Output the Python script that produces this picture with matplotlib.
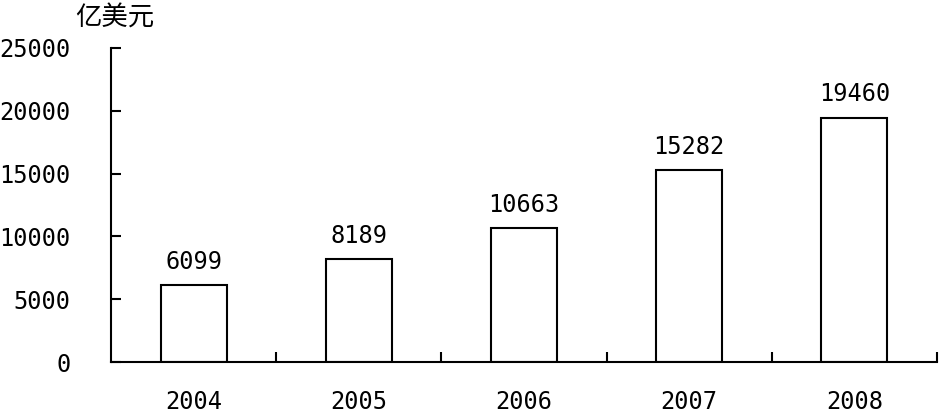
import matplotlib.pyplot as plt
import matplotlib.ticker as mtick

# Data
years = ["2004", "2005", "2006", "2007", "2008"]
values = [6099, 8189, 10663, 15282, 19460]
y_ticks = [0, 5000, 10000, 15000, 20000, 25000]

num_font = ["DejaVu Sans Mono"]
plt.rcParams["font.family"] = ["Noto Sans CJK SC", "DejaVu Sans"]

fig = plt.figure(figsize=(9.4, 4.12), dpi=100)
ax = fig.add_axes([111 / 940, 50 / 412, 826 / 940, 314 / 412])

x = list(range(len(years)))
bars = ax.bar(
    x,
    values,
    width=0.4,
    color="white",
    edgecolor="black",
    linewidth=1.5,
)

for bar in bars:
    h = bar.get_height()
    ax.annotate(
        f"{int(h)}",
        xy=(bar.get_x() + bar.get_width() / 2, h),
        xytext=(0, 8),
        textcoords="offset points",
        ha="center",
        va="bottom",
        fontsize=17,
        family=num_font,
    )

ax.set_xlim(-0.5, len(years) - 0.5)
ax.set_ylim(0, 25000)
ax.set_yticks(y_ticks)
ax.set_yticklabels([str(t) for t in y_ticks], family=num_font)

# category labels centred, tick marks at category boundaries
ax.set_xticks(x)
ax.set_xticklabels(years, family=num_font)
ax.xaxis.set_minor_locator(mtick.FixedLocator([i + 0.5 for i in x]))
ax.tick_params(axis="x", which="major", length=0, pad=20, labelsize=17)
ax.tick_params(axis="x", which="minor", direction="in", length=7, width=1.5)
ax.tick_params(axis="y", direction="in", length=7, width=1.5, pad=29, labelsize=17)

for side in ["top", "right"]:
    ax.spines[side].set_visible(False)
for side in ["left", "bottom"]:
    ax.spines[side].set_linewidth(1.5)

fig.text(75 / 940, 1 - 18 / 412, "亿美元", fontsize=19, ha="left", va="center")

fig.savefig("out.png", dpi=100, facecolor="white")
